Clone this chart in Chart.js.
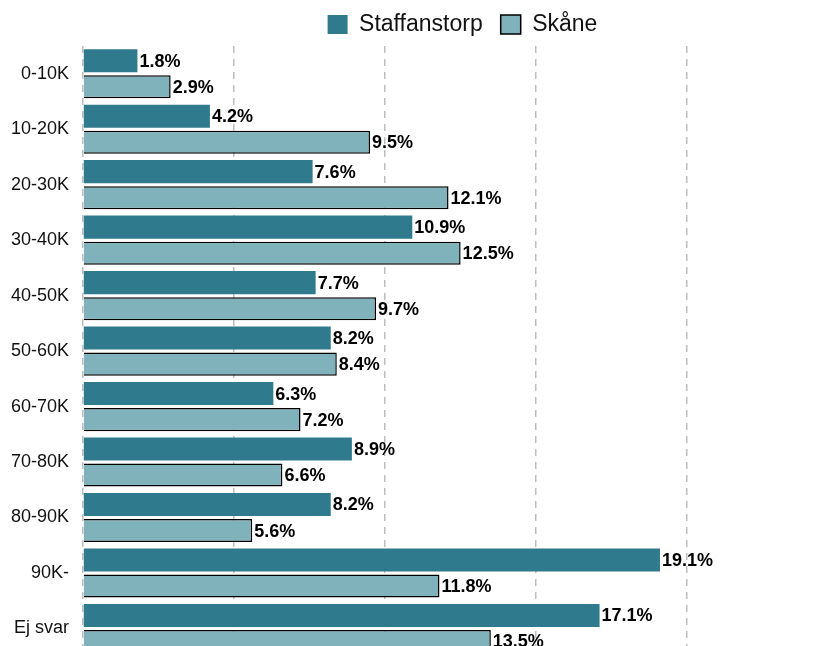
<!DOCTYPE html>
<html>
<head>
<meta charset="utf-8">
<script src="https://cdn.jsdelivr.net/npm/chart.js@4.4.0/dist/chart.umd.min.js"></script>
<style>
    html, body { margin: 0; padding: 0; background: #fff; overflow: hidden; }
    #wrap { width: 826px; height: 681px; }
</style>
</head>
<body>
<div id="wrap"><canvas id="incomeChart" width="826" height="681"></canvas></div>
<script>
// Income groups
const categories = ['0-10K', '10-20K', '20-30K', '30-40K', '40-50K', '50-60K', '60-70K', '70-80K', '80-90K', '90K-', 'Ej svar'];

// Share of households (%)
const staffanstorp = [1.8, 4.2, 7.6, 10.9, 7.7, 8.2, 6.3, 8.9, 8.2, 19.1, 17.1];
const skane = [2.9, 9.5, 12.1, 12.5, 9.7, 8.4, 7.2, 6.6, 5.6, 11.8, 13.5];

const seriesNames = ['Staffanstorp', 'Skåne'];

// Draw value labels to the right of each bar
const valueLabels = {
    id: 'valueLabels',
    afterDatasetsDraw(chart) {
        const ctx = chart.ctx;
        ctx.save();
        ctx.font = 'bold 18px "Liberation Sans", Arial, sans-serif';
        ctx.fillStyle = '#000';
        ctx.textBaseline = 'middle';
        ctx.textAlign = 'left';
        chart.data.datasets.forEach((ds, i) => {
            chart.getDatasetMeta(i).data.forEach((bar, j) => {
                ctx.fillText(ds.data[j].toFixed(1) + '%', bar.x + 2, bar.y + 1);
            });
        });
        ctx.restore();
    }
};

// Move the legend a bit to the right
const legendShift = {
    id: 'legendShift',
    afterLayout(chart) {
        chart.legend.left += 60;
        chart.legend.right += 60;
    }
};

const ctx = document.getElementById('incomeChart').getContext('2d');
new Chart(ctx, {
    type: 'bar',
    data: {
        labels: categories,
        datasets: [{
            label: seriesNames[0],
            data: staffanstorp,
            backgroundColor: '#2f7a8c',
            borderWidth: 0
        }, {
            label: seriesNames[1],
            data: skane,
            backgroundColor: '#7fb2bb',
            borderColor: '#000',
            borderWidth: 1.5
        }]
    },
    options: {
        indexAxis: 'y',
        responsive: false,
        animation: false,
        categoryPercentage: 0.94,
        barPercentage: 0.885,
        layout: {
            padding: { top: -5, left: -3, right: 18, bottom: 3 }
        },
        scales: {
            x: {
                min: 0,
                max: 24,
                afterFit(scale) { scale.height = 0; },
                ticks: { display: false, stepSize: 5 },
                border: { display: false, dash: [7, 6] },
                grid: {
                    color: (c) => (c.tick && c.tick.value % 5 === 0) ? '#bdbdbd' : 'rgba(0,0,0,0)',
                    lineWidth: 1.5,
                    drawTicks: false
                }
            },
            y: {
                ticks: {
                    color: '#111',
                    padding: 14,
                    font: { size: 18, family: '"Liberation Sans", Arial, sans-serif' }
                },
                border: { display: false },
                grid: { display: false, drawTicks: false }
            }
        },
        plugins: {
            legend: {
                position: 'top',
                labels: {
                    color: '#111',
                    boxWidth: 20,
                    boxHeight: 19,
                    padding: 18,
                    font: { size: 23, family: '"Liberation Sans", Arial, sans-serif' }
                }
            },
            tooltip: { enabled: false }
        }
    },
    plugins: [valueLabels, legendShift]
});
</script>
</body>
</html>
